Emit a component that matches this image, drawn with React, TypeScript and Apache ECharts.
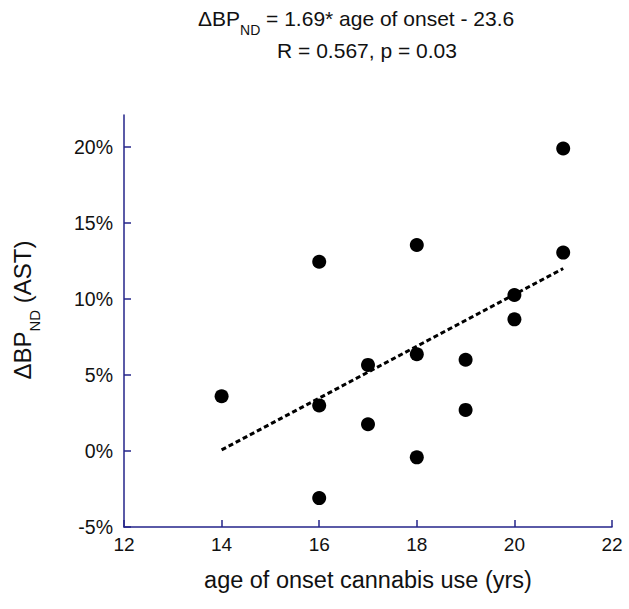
import React, { useEffect, useRef } from "react";
import * as echarts from "echarts";

const ageOfOnset = [14, 16, 16, 16, 17, 17, 18, 18, 18, 19, 19, 20, 20, 21, 21];
const deltaBP = [3.6, 12.45, 3.0, -3.1, 5.66, 1.76, 13.55, 6.36, -0.42, 6.0, 2.7, 10.26, 8.66, 19.9, 13.05];
const trendX = [14, 21];
const trendY = [0.07, 12.0];
const yTicks = [-5, 0, 5, 10, 15, 20];
const xTicks = [12, 14, 16, 18, 20, 22];
const titleLine1 = ["ΔBP", "ND", " = 1.69* age of onset - 23.6"];
const titleLine2 = "R = 0.567, p = 0.03";
const xName = "age of onset cannabis use (yrs)";
const yNameParts = ["ΔBP", "ND", " (AST)"];

const FONT = "'Liberation Sans', Arial, Helvetica, sans-serif";
const AXIS = "#24248a";
const TXT = "#111";

export default function App() {
  const ref = useRef<HTMLDivElement>(null);
  useEffect(() => {
    const chart = echarts.init(ref.current!, null, { renderer: "svg" });
    const rich = (main: number, sub: number, lineH: number) => ({
      m: { fontSize: main, fontFamily: FONT, fill: TXT, lineHeight: main + 2, verticalAlign: "top" },
      s: { fontSize: sub, fontFamily: FONT, fill: TXT, lineHeight: lineH, verticalAlign: "bottom" },
    });
    chart.setOption({
      animation: false,
      textStyle: { fontFamily: FONT },
      grid: { left: 124, right: 17, top: 115, bottom: 82 },
      xAxis: {
        type: "value",
        min: 12,
        max: 22,
        interval: 2,
        name: xName,
        nameLocation: "middle",
        nameGap: 41,
        nameTextStyle: { fontSize: 23.5, color: TXT, fontFamily: FONT },
        axisLine: { onZero: false, lineStyle: { color: AXIS, width: 1.5 } },
        axisTick: { inside: true, length: 7, lineStyle: { color: AXIS, width: 1.5 }, customValues: xTicks },
        axisLabel: { fontSize: 19, color: TXT, margin: 8, fontFamily: FONT, customValues: xTicks },
        splitLine: { show: false },
      },
      yAxis: {
        type: "value",
        min: -5,
        max: 22.1,
        interval: 5,
        axisLine: { show: true, onZero: false, lineStyle: { color: AXIS, width: 1.5 } },
        axisTick: { show: true, inside: true, length: 7, lineStyle: { color: AXIS, width: 1.5 }, customValues: yTicks },
        axisLabel: { fontSize: 19.5, color: TXT, margin: 11, fontFamily: FONT, formatter: "{value}%", customValues: yTicks },
        splitLine: { show: false },
      },
      graphic: [
        {
          type: "text",
          x: 198,
          y: 8,
          style: {
            text: `{m|${titleLine1[0]}}{s|${titleLine1[1]}}{m|${titleLine1[2]}}`,
            rich: rich(21, 14, 29),
            textAlign: "left",
            textVerticalAlign: "top",
          },
        },
        {
          type: "text",
          x: 367,
          y: 50,
          style: {
            text: titleLine2,
            fontSize: 21,
            fontFamily: FONT,
            fill: TXT,
            textAlign: "center",
            textVerticalAlign: "middle",
          },
        },
        {
          type: "text",
          x: 10,
          y: 310,
          rotation: Math.PI / 2,
          style: {
            text: `{m|${yNameParts[0]}}{s|${yNameParts[1]}}{m|${yNameParts[2]}}`,
            rich: rich(24, 15, 32),
            textAlign: "center",
            textVerticalAlign: "top",
          },
        },
      ],
      series: [
        {
          type: "scatter",
          data: ageOfOnset.map((x, i) => [x, deltaBP[i]]),
          symbol: "circle",
          symbolSize: 14,
          itemStyle: { color: "#000", opacity: 1 },
          z: 3,
        },
        {
          type: "line",
          data: trendX.map((x, i) => [x, trendY[i]]),
          showSymbol: false,
          symbol: "none",
          lineStyle: { color: "#000", width: 3, type: [5, 3] },
          z: 2,
        },
      ],
    });
    return () => chart.dispose();
  }, []);
  return <div ref={ref} style={{ width: 629, height: 609, position: "absolute", left: 0, top: 0 }} />;
}
